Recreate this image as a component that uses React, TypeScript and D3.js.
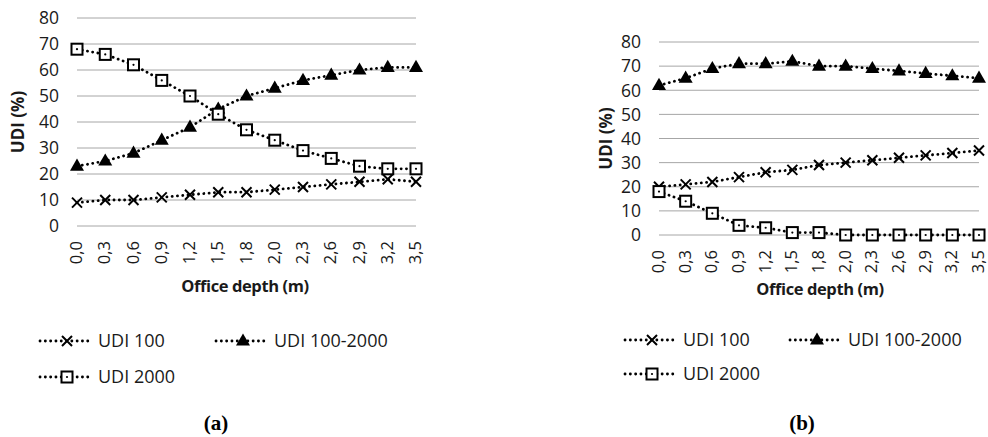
import * as d3 from 'd3';
import { useEffect, useRef } from 'react';

const depths = ['0,0', '0,3', '0,6', '0,9', '1,2', '1,5', '1,8', '2,0', '2,3', '2,6', '2,9', '3,2', '3,5'];
const yTicks = [0, 10, 20, 30, 40, 50, 60, 70, 80];
const seriesNames = ['UDI 100', 'UDI 100-2000', 'UDI 2000'];

// panel (a)
const aUdi100 = [9, 10, 10, 11, 12, 13, 13, 14, 15, 16, 17, 18, 17];
const aUdi100to2000 = [23, 25, 28, 33, 38, 45, 50, 53, 56, 58, 60, 61, 61];
const aUdi2000 = [68, 66, 62, 56, 50, 43, 37, 33, 29, 26, 23, 22, 22];

// panel (b)
const bUdi100 = [20, 21, 22, 24, 26, 27, 29, 30, 31, 32, 33, 34, 35];
const bUdi100to2000 = [62, 65, 69, 71, 71, 72, 70, 70, 69, 68, 67, 66, 65];
const bUdi2000 = [18, 14, 9, 4, 3, 1, 1, 0, 0, 0, 0, 0, 0];

const FONT = "'Open Sans', sans-serif";
const markers = ['cross', 'triangle', 'square'];

type G = d3.Selection<SVGGElement, unknown, null, undefined>;

function drawMarker(g: G, kind: string, x: number, y: number) {
    if (kind === 'cross') {
        const s = 5;
        g.append('path')
            .attr('d', `M${x - s},${y - s}L${x + s},${y + s}M${x - s},${y + s}L${x + s},${y - s}`)
            .attr('stroke', '#000')
            .attr('stroke-width', 2);
    } else if (kind === 'triangle') {
        g.append('path')
            .attr('d', d3.symbol(d3.symbolTriangle, 85)())
            .attr('transform', `translate(${x},${y + 0.5})`)
            .attr('fill', '#000');
    } else {
        g.append('rect')
            .attr('x', x - 5.5)
            .attr('y', y - 5.5)
            .attr('width', 11)
            .attr('height', 11)
            .attr('fill', '#fff')
            .attr('stroke', '#000')
            .attr('stroke-width', 2);
        g.append('circle').attr('cx', x).attr('cy', y).attr('r', 1.1).attr('fill', '#000');
    }
}

interface Panel {
    series: number[][];
    xRange: [number, number];
    yRange: [number, number];
    yLabelX: number;
    xTitle: [number, number];
    legend: { x0: number; x1: number; y0: number; y1: number };
    caption: [number, number, string];
}

function drawPanel(svg: d3.Selection<SVGSVGElement, unknown, null, undefined>, p: Panel) {
    const g = svg.append('g');
    const x = d3.scalePoint<string>().domain(depths).range(p.xRange);
    const y = d3.scaleLinear().domain([0, 80]).range(p.yRange);

    // gridlines
    g.selectAll('line.grid')
        .data(yTicks)
        .join('line')
        .attr('x1', p.xRange[0])
        .attr('x2', p.xRange[1])
        .attr('y1', (d) => y(d))
        .attr('y2', (d) => y(d))
        .attr('stroke', '#a6a6a6')
        .attr('stroke-width', 1);

    // y tick labels
    g.selectAll('text.ytick')
        .data(yTicks)
        .join('text')
        .attr('x', p.xRange[0] - 18)
        .attr('y', (d) => y(d))
        .attr('dy', '0.36em')
        .attr('text-anchor', 'end')
        .attr('font-family', FONT)
        .attr('font-size', 17.5)
        .attr('fill', '#1a1a1a')
        .text((d) => d);

    // x tick labels, rotated
    const xt = p.yRange[0] + 15;
    g.selectAll('text.xtick')
        .data(depths)
        .join('text')
        .attr('transform', (d) => `translate(${x(d)! + 5},${xt}) rotate(-90)`)
        .attr('text-anchor', 'end')
        .attr('font-family', FONT)
        .attr('font-size', 16.5)
        .attr('fill', '#1a1a1a')
        .text((d) => d);

    // axis titles
    g.append('text')
        .attr('transform', `translate(${p.yLabelX},${(p.yRange[0] + p.yRange[1]) / 2}) rotate(-90)`)
        .attr('text-anchor', 'middle')
        .attr('font-family', FONT)
        .attr('font-weight', 'bold')
        .attr('font-size', 17)
        .attr('fill', '#1a1a1a')
        .text('UDI (%)');

    g.append('text')
        .attr('x', p.xTitle[0])
        .attr('y', p.xTitle[1])
        .attr('text-anchor', 'middle')
        .attr('font-family', FONT)
        .attr('font-weight', 'bold')
        .attr('font-size', 16.5)
        .attr('letter-spacing', -0.4)
        .attr('fill', '#1a1a1a')
        .text('Office depth (m)');

    // series
    const line = d3
        .line<number>()
        .x((_, i) => x(depths[i])!)
        .y((d) => y(d));

    p.series.forEach((vals) => {
        g.append('path')
            .attr('d', line(vals))
            .attr('fill', 'none')
            .attr('stroke', '#000')
            .attr('stroke-width', 2.8)
            .attr('stroke-linecap', 'round')
            .attr('stroke-dasharray', '0.1,5.2');
    });
    p.series.forEach((vals, si) => {
        vals.forEach((v, i) => drawMarker(g, markers[si], x(depths[i])!, y(v)));
    });

    // legend
    const items = [
        { x: p.legend.x0, y: p.legend.y0 },
        { x: p.legend.x1, y: p.legend.y0 },
        { x: p.legend.x0, y: p.legend.y1 },
    ];
    items.forEach((it, i) => {
        g.append('line')
            .attr('x1', it.x)
            .attr('x2', it.x + 50)
            .attr('y1', it.y)
            .attr('y2', it.y)
            .attr('stroke', '#000')
            .attr('stroke-width', 2.8)
            .attr('stroke-linecap', 'round')
            .attr('stroke-dasharray', '0.1,5.2');
        drawMarker(g, markers[i], it.x + 27, it.y);
        g.append('text')
            .attr('x', it.x + 58)
            .attr('y', it.y)
            .attr('dy', '0.36em')
            .attr('font-family', FONT)
            .attr('font-size', 18)
            .attr('fill', '#1a1a1a')
            .text(seriesNames[i]);
    });

    g.append('text')
        .attr('x', p.caption[0])
        .attr('y', p.caption[1])
        .attr('text-anchor', 'middle')
        .attr('font-family', "'Liberation Serif', serif")
        .attr('font-weight', 'bold')
        .attr('font-size', 21)
        .attr('fill', '#000')
        .text(p.caption[2]);
}

export default function App() {
    const svgRef = useRef<SVGSVGElement>(null);

    useEffect(() => {
        if (!svgRef.current) return;
        const svg = d3.select(svgRef.current);
        svg.selectAll('*').remove();

        drawPanel(svg, {
            series: [aUdi100, aUdi100to2000, aUdi2000],
            xRange: [77, 416],
            yRange: [226, 18],
            yLabelX: 24,
            xTitle: [245, 292],
            legend: { x0: 40, x1: 216, y0: 341, y1: 377 },
            caption: [216, 430, '(a)'],
        });

        drawPanel(svg, {
            series: [bUdi100, bUdi100to2000, bUdi2000],
            xRange: [659, 979],
            yRange: [235, 42],
            yLabelX: 612,
            xTitle: [820, 295],
            legend: { x0: 625, x1: 790, y0: 340, y1: 374 },
            caption: [802, 430, '(b)'],
        });
    }, []);

    return (
        <svg
            ref={svgRef}
            width={988}
            height={437}
            style={{ position: 'absolute', left: 0, top: 0, background: '#fff' }}
        />
    );
}
